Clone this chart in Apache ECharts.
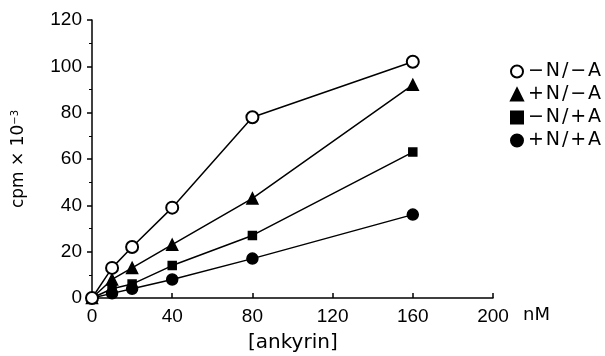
<!DOCTYPE html>
<html><head><meta charset="utf-8">
<script src="https://cdn.jsdelivr.net/npm/echarts@6/dist/echarts.min.js"></script>
<style>html,body{margin:0;padding:0;background:#fff}#c{width:605px;height:356px}</style>
</head><body><div id="c"></div>
<script>
const xValues = [0, 10, 20, 40, 80, 160];
const seriesNames = ['\u2212N/\u2212A', '+N/\u2212A', '\u2212N/+A', '+N/+A'];
const negNnegA = [0, 13, 22, 39, 78, 102];
const posNnegA = [0, 8, 13, 23, 43, 92];
const negNposA = [0, 4, 6, 14, 27, 63];
const posNposA = [0, 2, 4, 8, 17, 36];
const xTicks = [0, 40, 80, 120, 160, 200];
const yTicks = [0, 20, 40, 60, 80, 100, 120];

const font = 'Liberation Sans, Arial, sans-serif';
const wfont = 'DejaVu Sans, sans-serif';
const symbols = ['emptyCircle', 'triangle', 'rect', 'circle'];
const sizes = [12, 11, 8, 11];
const allData = [negNnegA, posNnegA, negNposA, posNposA];
const spaced = s => s.split('').join('\u200a');

const chart = echarts.init(document.getElementById('c'));
chart.setOption({
  animation: false,
  backgroundColor: '#fff',
  grid: { left: 88, right: 112, top: 20, bottom: 58, outerBoundsMode: 'none', containLabel: false },
  xAxis: {
    type: 'value', min: -2, max: 200, interval: 40,
    axisLine: { onZero: false, lineStyle: { color: '#000', width: 1.5 } },
    axisTick: { inside: true, length: 5, lineStyle: { color: '#000', width: 1.5 }, customValues: xTicks },
    minorTick: { show: false },
    axisLabel: { color: '#000', fontSize: 19, fontFamily: font, customValues: xTicks, margin: 9 },
    splitLine: { show: false }
  },
  yAxis: {
    type: 'value', min: 0, max: 120, interval: 20,
    name: '{a|cpm \u00d7 10}{s|\u22123}', nameLocation: 'middle', nameRotate: 90, nameGap: 60,
    nameTextStyle: { fontSize: 17, fontFamily: wfont, color: '#000', rich: {
      a: { fontSize: 17, fontFamily: wfont, color: '#000' },
      s: { fontSize: 10, fontFamily: wfont, color: '#000', verticalAlign: 'top', padding: [0, 0, 8, 0] } } },
    axisLine: { show: true, lineStyle: { color: '#000', width: 1.5 } },
    axisTick: { show: true, inside: false, length: 5, lineStyle: { color: '#000', width: 1.5 } },
    minorTick: { show: true, splitNumber: 2, length: 3, lineStyle: { color: '#000' } },
    axisLabel: { color: '#000', fontSize: 19, fontFamily: font, margin: 6 },
    splitLine: { show: false }
  },
  legend: {
    orient: 'vertical', left: 505, top: 57, itemGap: 4, itemWidth: 12, itemHeight: 12,
    formatter: n => spaced(n),
    textStyle: { color: '#000', fontSize: 19, fontFamily: wfont, padding: [0, 0, 0, 0] },
    data: seriesNames.map((n, i) => ({ name: n, icon: symbols[i] }))
  },
  graphic: [
    { type: 'text', left: 523, top: 306, style: { text: 'nM', fontSize: 18, fontFamily: wfont, fill: '#000' } },
    { type: 'text', left: 248, top: 333, style: { text: '[ankyrin]', fontSize: 20, fontFamily: wfont, fill: '#000' } }
  ],
  series: seriesNames.map((n, i) => ({
    name: n, type: 'line',
    data: xValues.map((x, j) => [x, allData[i][j]]),
    symbol: symbols[i], symbolSize: sizes[i], showAllSymbol: true,
    lineStyle: { color: '#000', width: 1.5 },
    itemStyle: { color: '#000', borderColor: '#000', borderWidth: 1.5 },
    z: 10 - i
  }))
});
</script></body></html>
